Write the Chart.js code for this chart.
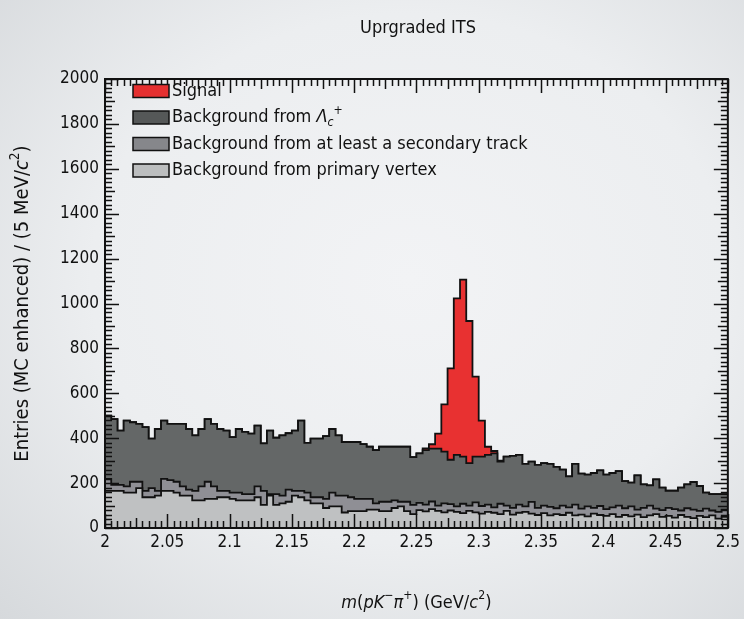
<!DOCTYPE html>
<html>
<head>
<meta charset="utf-8">
<script src="https://cdn.jsdelivr.net/npm/chart.js@4.4.0/dist/chart.umd.min.js"></script>
<style>
  html, body { margin: 0; padding: 0; }
  body {
    width: 744px; height: 619px; overflow: hidden;
    background: radial-gradient(ellipse at 55% 45%, #f2f3f5 0%, #eceef0 55%, #d6d9dc 100%);
  }
  #wrap { position: relative; width: 744px; height: 619px; }
</style>
</head>
<body>
<div id="wrap"><canvas id="histChart" width="744" height="619"></canvas></div>
<script>
// binning: 100 bins of 5 MeV from 2.0 to 2.5 GeV
const binLow = 2.0;
const binWidth = 0.005;

const primaryVertex = [
  165,165,165,158,158,178,137,137,144,165,
  165,158,144,144,123,123,130,130,137,137,
  130,123,123,123,137,103,144,103,110,117,
  144,137,123,110,110,89,96,96,69,75,
  75,75,82,82,75,75,89,96,75,62,
  80,74,84,76,70,78,72,66,76,70,
  64,72,68,62,76,60,68,72,64,58,
  66,56,62,58,68,56,60,52,64,58,
  54,62,50,58,52,60,48,56,62,50,
  54,46,58,50,44,54,48,56,42,50
];
const secondaryTrack = [
  54,27,27,27,48,28,28,41,21,54,
  48,48,41,27,42,62,76,55,28,28,
  28,35,28,28,48,62,7,48,34,54,
  21,28,35,27,27,41,62,48,75,62,
  55,55,48,28,42,42,34,21,42,41,
  32,30,34,24,40,28,24,42,24,44,
  34,32,24,46,24,30,36,24,52,32,
  34,38,26,42,24,48,26,44,26,40,
  30,30,50,30,44,22,42,44,24,30,
  36,38,20,38,38,22,38,22,30,32
];
const lambdaBkg = [
  281,293,242,293,265,258,284,220,276,259,
  251,258,279,270,248,256,279,279,276,269,
  247,283,277,269,271,212,283,251,269,251,
  269,313,221,261,261,279,283,269,239,246,
  253,244,232,237,245,245,239,245,245,213,
  220,243,236,254,230,198,230,210,189,204,
  220,222,240,188,218,231,222,190,180,191,
  189,192,184,160,138,182,156,142,155,159,
  154,153,153,121,106,152,104,90,131,100,
  76,82,102,106,123,111,72,73,79,69
];
const signal = [
  0,0,0,0,0,0,0,0,0,0,
  0,0,0,0,0,0,0,0,0,0,
  0,0,0,0,0,0,0,0,0,0,
  0,0,0,0,0,0,0,0,0,0,
  0,0,0,0,0,0,0,0,0,0,
  0,8,19,66,211,407,697,788,633,356,
  160,36,11,4,0,0,0,0,0,0,
  0,0,0,0,0,0,0,0,0,0,
  0,0,0,0,0,0,0,0,0,0,
  0,0,0,0,0,0,0,0,0,0
];

const xTickLabels = ['2', '2.05', '2.1', '2.15', '2.2', '2.25', '2.3', '2.35', '2.4', '2.45', '2.5'];
const yTickLabels = ['0', '200', '400', '600', '800', '1000', '1200', '1400', '1600', '1800', '2000'];

const FONT = "'Liberation Sans Narrow', 'DejaVu Sans Condensed', 'Liberation Sans', sans-serif";
const INK = '#111111';

// step histogram: points at bin centres, closed at both edges
function histPoints(vals) {
  const pts = vals.map((v, i) => ({ x: binLow + binWidth * (i + 0.5), y: v }));
  pts.unshift({ x: binLow, y: vals[0] });
  pts.push({ x: binLow + binWidth * vals.length, y: vals[vals.length - 1] });
  return pts;
}

// text with italic / sub / sup pieces
function richText(ctx, parts, x, y, size, draw) {
  let cx = x;
  parts.forEach(p => {
    const fs = (p.sub || p.sup) ? size * 0.68 : size;
    ctx.font = (p.i ? 'italic ' : '') + fs.toFixed(1) + 'px ' + FONT;
    const dy = p.sub ? size * 0.28 : (p.sup ? -size * 0.38 : 0);
    if (draw) ctx.fillText(p.t, cx, y + dy);
    cx += ctx.measureText(p.t).width;
  });
  return cx - x;
}

const legendRows = [
  { color: '#e53030', parts: [{ t: 'Signal' }] },
  { color: '#555858', parts: [{ t: 'Background from ' }, { t: 'Λ', i: true }, { t: 'c', sub: true, i: true }, { t: '+', sup: true }] },
  { color: '#86878b', parts: [{ t: 'Background from at least a secondary track' }] },
  { color: '#bcbebf', parts: [{ t: 'Background from primary vertex' }] }
];

const rootStyle = {
  id: 'rootStyle',
  afterDatasetsDraw(chart) {
    const { ctx, chartArea: a, scales: { x, y } } = chart;
    ctx.save();
    ctx.strokeStyle = INK;
    ctx.lineWidth = 1.5;
    ctx.beginPath();
    // x ticks on bottom and top
    for (let k = 0; k <= 100; k++) {
      const px = Math.round(x.getPixelForValue(binLow + k * binWidth)) + 0.5;
      const len = k % 10 === 0 ? 14 : (k % 5 === 0 ? 10 : 7);
      ctx.moveTo(px, a.bottom); ctx.lineTo(px, a.bottom - len);
      ctx.moveTo(px, a.top); ctx.lineTo(px, a.top + len);
    }
    // y ticks on left and right
    for (let v = 0; v <= 2000; v += 20) {
      const py = Math.round(y.getPixelForValue(v)) + 0.5;
      const len = v % 200 === 0 ? 14 : (v % 100 === 0 ? 10 : 7);
      ctx.moveTo(a.left, py); ctx.lineTo(a.left + len, py);
      ctx.moveTo(a.right, py); ctx.lineTo(a.right - len, py);
    }
    ctx.stroke();
    ctx.lineWidth = 2;
    ctx.strokeRect(a.left, a.top, a.width, a.height);
    ctx.restore();
  },
  afterDraw(chart) {
    const { ctx, chartArea: a } = chart;
    ctx.save();
    ctx.fillStyle = INK;
    ctx.textBaseline = 'middle';

    // title
    ctx.font = '18px ' + FONT;
    ctx.textAlign = 'center';
    ctx.fillText('Uprgraded ITS', 418, 28);

    // legend
    ctx.textAlign = 'left';
    legendRows.forEach((row, i) => {
      const yy = a.top + 12 + i * 26.5;
      ctx.fillStyle = row.color;
      ctx.fillRect(133, yy - 6.5, 36, 13);
      ctx.strokeStyle = INK;
      ctx.lineWidth = 1.5;
      ctx.strokeRect(133, yy - 6.5, 36, 13);
      ctx.fillStyle = INK;
      richText(ctx, row.parts, 172, yy, 18, true);
    });

    // x axis title
    const xParts = [{ t: 'm', i: true }, { t: '(' }, { t: 'pK', i: true }, { t: '−', sup: true }, { t: 'π', i: true },
      { t: '+', sup: true }, { t: ') (GeV/' }, { t: 'c', i: true }, { t: '2', sup: true }, { t: ')' }];
    const w = richText(ctx, xParts, 0, 0, 18, false);
    richText(ctx, xParts, (a.left + a.right) / 2 - w / 2, 603, 18, true);

    // y axis title
    ctx.translate(23, (a.top + a.bottom) / 2);
    ctx.rotate(-Math.PI / 2);
    const yParts = [{ t: 'Entries (MC enhanced) / (5 MeV/' }, { t: 'c', i: true }, { t: '2', sup: true }, { t: ')' }];
    const wy = richText(ctx, yParts, 0, 0, 20, false);
    richText(ctx, yParts, -wy / 2, 0, 20, true);
    ctx.restore();
  }
};

document.addEventListener('DOMContentLoaded', function() {
  const ctx = document.getElementById('histChart').getContext('2d');
  const lineStyle = {
    borderColor: INK,
    borderWidth: 1.8,
    pointRadius: 0,
    stepped: 'middle',
    tension: 0
  };

  new Chart(ctx, {
    type: 'line',
    data: {
      datasets: [
        Object.assign({ label: 'Background from primary vertex', data: histPoints(primaryVertex), backgroundColor: '#bfc1c2', fill: 'origin' }, lineStyle),
        Object.assign({ label: 'Background from at least a secondary track', data: histPoints(secondaryTrack), backgroundColor: '#8f8f95', fill: '-1' }, lineStyle),
        Object.assign({ label: 'Background from Λc+', data: histPoints(lambdaBkg), backgroundColor: '#646767', fill: '-1' }, lineStyle),
        Object.assign({ label: 'Signal', data: histPoints(signal), backgroundColor: '#e83131', fill: '-1' }, lineStyle)
      ]
    },
    options: {
      responsive: false,
      animation: false,
      layout: { padding: { top: 79, right: 15, left: 0, bottom: 0 } },
      plugins: {
        legend: { display: false },
        tooltip: { enabled: false },
        title: { display: false }
      },
      scales: {
        x: {
          type: 'linear',
          min: 2.0,
          max: 2.5,
          grid: { display: false, drawTicks: false },
          border: { display: false },
          ticks: {
            stepSize: 0.05,
            autoSkip: false,
            maxRotation: 0,
            padding: 4,
            color: INK,
            font: { family: FONT, size: 17 },
            callback: (v, i) => xTickLabels[i]
          },
          afterFit: s => { s.height = 619 - 528; }
        },
        y: {
          stacked: true,
          min: 0,
          max: 2000,
          grid: { display: false, drawTicks: false },
          border: { display: false },
          ticks: {
            stepSize: 200,
            padding: 6,
            color: INK,
            font: { family: FONT, size: 17 },
            callback: (v, i) => yTickLabels[i]
          },
          afterFit: s => { s.width = 105; }
        }
      }
    },
    plugins: [rootStyle]
  });
});
</script>
</body>
</html>
